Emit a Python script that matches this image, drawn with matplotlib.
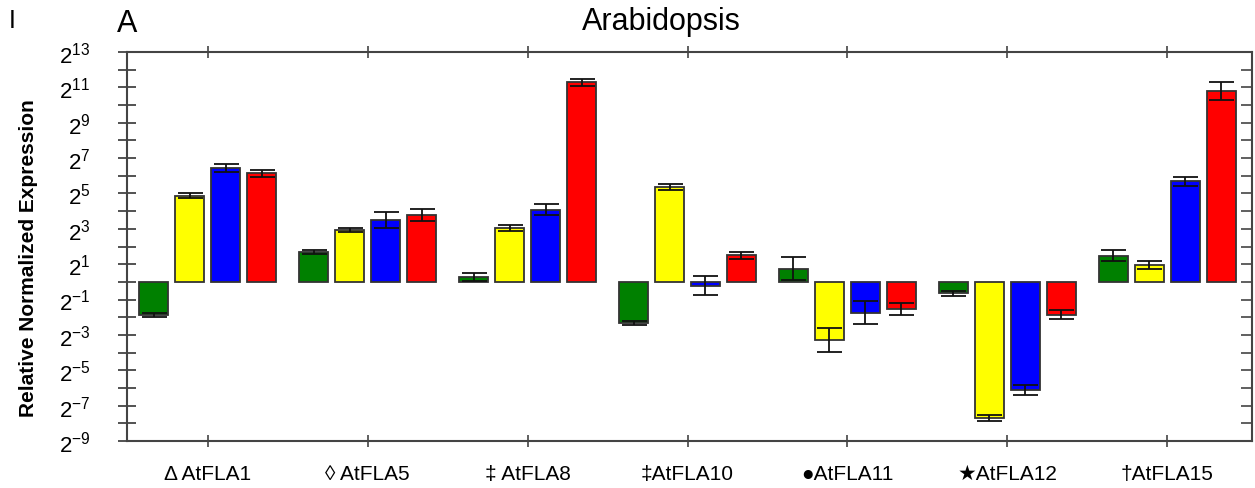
import numpy as np
from matplotlib import pyplot as plt
from matplotlib.ticker import FixedLocator, LogFormatterMathtext, NullFormatter
from matplotlib.transforms import ScaledTranslation

plt.rcParams['font.family'] = ['Liberation Sans', 'DejaVu Sans']

# gene labels (with the original marker symbols)
genes = ["\u0394 AtFLA1", "\u25ca AtFLA5", "\u2021 AtFLA8", "\u2021AtFLA10",
         "\u25cfAtFLA11", "\u2605AtFLA12", "\u2020AtFLA15"]

# log2 of relative normalized expression
green_log2 = [-1.87, 1.68, 0.28, -2.34, 0.74, -0.64, 1.49]
yellow_log2 = [4.88, 2.94, 3.04, 5.37, -3.28, -7.71, 0.94]
blue_log2 = [6.43, 3.49, 4.09, -0.21, -1.75, -6.11, 5.69]
red_log2 = [6.15, 3.77, 11.29, 1.51, -1.51, -1.85, 10.78]

# error (in log2 units, symmetric)
green_err = [0.10, 0.10, 0.21, 0.12, 0.66, 0.14, 0.33]
yellow_err = [0.15, 0.13, 0.19, 0.16, 0.67, 0.16, 0.22]
blue_err = [0.24, 0.46, 0.32, 0.55, 0.64, 0.27, 0.25]
red_err = [0.20, 0.33, 0.19, 0.19, 0.34, 0.26, 0.52]

series = [
    (green_log2, green_err, '#008000'),
    (yellow_log2, yellow_err, '#ffff00'),
    (blue_log2, blue_err, '#0000ff'),
    (red_log2, red_err, '#ff0000'),
]

fig = plt.figure(figsize=(12.55, 4.89), dpi=100)
ax = fig.add_axes([127 / 1255, 1 - 442 / 489, 1125 / 1255, 389 / 489])

x = np.arange(len(genes))
step = 0.225
width = 0.18
for i, (lg, err, col) in enumerate(series):
    lg = np.array(lg)
    err = np.array(err)
    val = 2.0 ** lg
    pos = x + (i - 1.5) * step
    ax.bar(pos, val - 1, bottom=1, width=width, color=col,
           edgecolor='#333333', linewidth=1.3, zorder=2)
    lo = val - 2.0 ** (lg - err)
    hi = 2.0 ** (lg + err) - val
    ax.errorbar(pos, val, yerr=[lo, hi], fmt='none', ecolor='#111111',
                elinewidth=1.3, capsize=9, capthick=1.3, zorder=3)

ax.set_yscale('log', base=2)
ax.set_ylim(2.0 ** -9, 2.0 ** 13)
ax.set_xlim(-0.505, 6.53)

ax.yaxis.set_major_locator(FixedLocator([2.0 ** e for e in range(-9, 14, 2)]))
ax.yaxis.set_minor_locator(FixedLocator([2.0 ** e for e in range(-8, 13, 2)]))
ax.yaxis.set_major_formatter(LogFormatterMathtext(base=2))
ax.yaxis.set_minor_formatter(NullFormatter())

ax.set_xticks(x)
ax.set_xticklabels(genes, fontsize=15)
shifts = [-25, -28, -25, -21, -17, -15, -11]
for lab, s in zip(ax.get_xticklabels(), shifts):
    lab.set_transform(lab.get_transform() + ScaledTranslation(s / 100, 0, fig.dpi_scale_trans))

for sp in ax.spines.values():
    sp.set_color('#444444')
    sp.set_linewidth(1.5)

ax.tick_params(axis='y', which='both', direction='inout', length=13, width=1.3,
               color='#444444', labelsize=16, pad=20, right=False)
ax.tick_params(axis='x', which='both', direction='inout', length=9, width=1.2,
               color='#444444', pad=12, top=True)

# right axis ticks only inward
ax2 = ax.twinx()
ax2.set_yscale('log', base=2)
ax2.set_ylim(ax.get_ylim())
ax2.yaxis.set_major_locator(FixedLocator([2.0 ** e for e in range(-9, 14)]))
ax2.yaxis.set_minor_locator(FixedLocator([]))
ax2.tick_params(axis='y', direction='in', length=8, width=1.2, color='#444444', labelright=False)
ax2.spines[:].set_visible(False)

ax.set_ylabel('Relative Normalized Expression', fontsize=15, fontweight='bold')
ax.yaxis.set_label_coords(-0.079, 0.473)

fig.text(661 / 1255, 1 - 22 / 489, 'Arabidopsis', fontsize=22, ha='center', va='center')
fig.text(117 / 1255, 1 - 24 / 489, 'A', fontsize=22, ha='left', va='center')
fig.text(9 / 1255, 1 - 21 / 489, 'I', fontsize=18, ha='left', va='center')

fig.savefig('out.png', dpi=100)
